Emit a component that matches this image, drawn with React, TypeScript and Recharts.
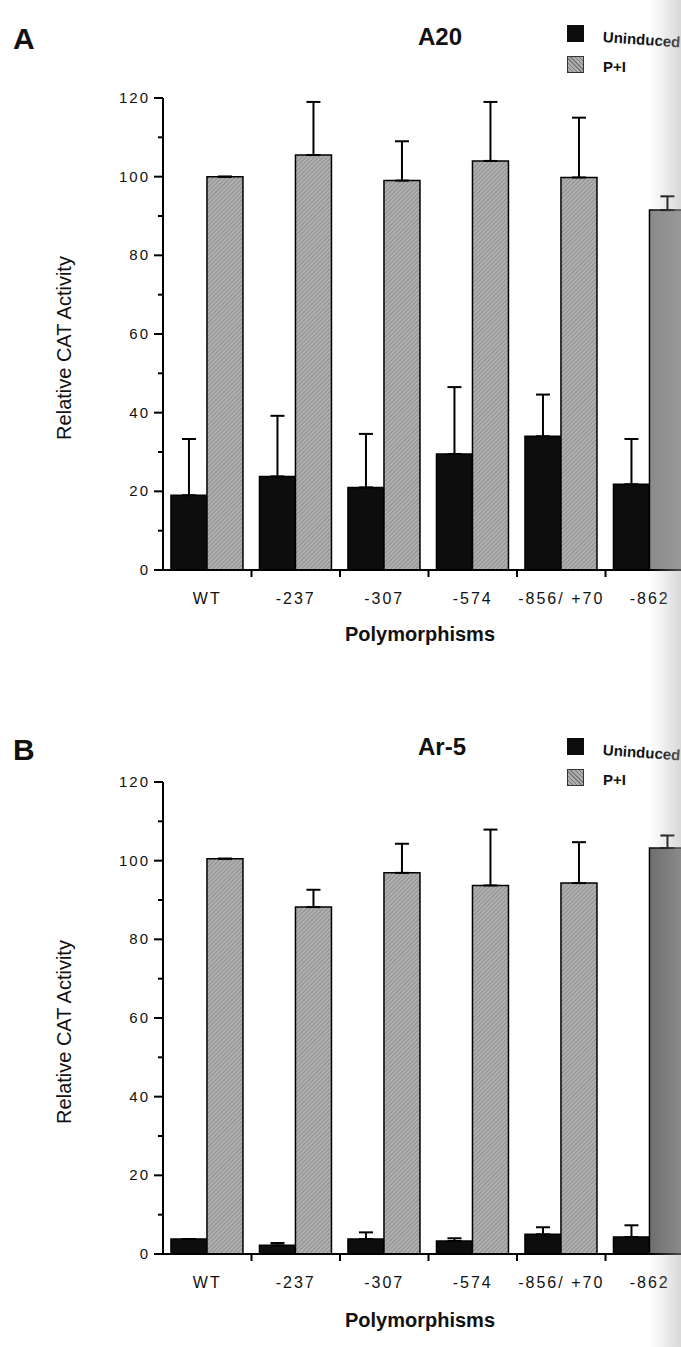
import React from 'react';
import { BarChart, Bar, XAxis, YAxis, ErrorBar, Cell } from 'recharts';

const categories = ['WT', '-237', '-307', '-574', '-856/ +70', '-862'];
const yTicks = [0, 10, 20, 30, 40, 50, 60, 70, 80, 90, 100, 110, 120];

// Panel A: A20
const a20Uninduced = [19, 23.8, 21, 29.5, 34, 21.8];
const a20UninducedErr = [14.3, 15.4, 13.6, 17, 10.6, 11.5];
const a20PI = [100, 105.5, 99, 104, 99.8, 91.5];
const a20PIErr = [0, 13.5, 10, 15, 15.2, 3.5];

// Panel B: Ar-5
const ar5Uninduced = [3.8, 2.2, 3.8, 3.3, 5, 4.3];
const ar5UninducedErr = [0, 0.6, 1.7, 0.7, 1.8, 3];
const ar5PI = [100.5, 88.2, 96.9, 93.7, 94.3, 103.2];
const ar5PIErr = [0, 4.4, 7.4, 14.2, 10.4, 3.2];

const FONT = '"Liberation Sans", Arial, Helvetica, sans-serif';

function buildRows(u: number[], ue: number[], p: number[], pe: number[]) {
  return categories.map((c, i) => ({
    cat: c,
    u: u[i],
    uErr: [0, ue[i]],
    p: p[i],
    pErr: [0, pe[i]],
  }));
}

const YTick = (props: any) => {
  const { x, y, payload } = props;
  const major = payload.value % 20 === 0;
  const len = major ? 9 : 5;
  return (
    <g>
      <line x1={x - len} x2={x} y1={y} y2={y} stroke="#000" strokeWidth={2} />
      {major && (
        <text
          x={x - 13}
          y={y + 5}
          textAnchor="end"
          fontFamily={FONT}
          fontSize={15}
          letterSpacing={2}
          fill="#111"
        >
          {payload.value}
        </text>
      )}
    </g>
  );
};

const XTick = (props: any) => {
  const { x, y, payload } = props;
  const off = typeof payload.offset === 'number' ? payload.offset : 0;
  return (
    <g>
      <line x1={x + off} x2={x + off} y1={y} y2={y + 7} stroke="#000" strokeWidth={2} />
      <text
        x={x}
        y={y + 34}
        textAnchor="middle"
        fontFamily={FONT}
        fontSize={16}
        letterSpacing={2}
        fill="#111"
      >
        {payload.value}
      </text>
    </g>
  );
};

function Panel(props: {
  rows: any[];
  id: string;
  height: number;
  top: number;
  darkLast: string;
}) {
  const { rows, id, height, top, darkLast } = props;
  return (
    <div style={{ position: 'absolute', left: 0, top }}>
      <BarChart
        width={704}
        height={height}
        data={rows}
        margin={{ top: 98, right: 10, bottom: 0, left: 100 }}
        barCategoryGap="9%"
        barGap={0}
      >
        <defs>
          <pattern
            id={id}
            width="3"
            height="3"
            patternUnits="userSpaceOnUse"
            patternTransform="rotate(45)"
          >
            <rect width="3" height="3" fill="#b0b0b0" />
            <line x1="0" y1="0" x2="0" y2="3" stroke="#787878" strokeWidth="1.2" />
          </pattern>
        </defs>
        <XAxis
          dataKey="cat"
          height={height - 98 - 472}
          interval={0}
          tickSize={0}
          tickMargin={0}
          tickLine={false}
          axisLine={{ stroke: '#000', strokeWidth: 2 }}
          tick={<XTick />}
        />
        <YAxis
          width={63}
          domain={[0, 120]}
          ticks={yTicks}
          interval={0}
          tickSize={0}
          tickMargin={0}
          tickLine={false}
          axisLine={{ stroke: '#000', strokeWidth: 2 }}
          tick={<YTick />}
        />
        <Bar dataKey="u" fill="#0d0d0d" stroke="#000" strokeWidth={1.5} isAnimationActive={false}>
          <ErrorBar dataKey="uErr" direction="y" width={7} stroke="#000" strokeWidth={2} />
        </Bar>
        <Bar dataKey="p" fill={`url(#${id})`} stroke="#000" strokeWidth={1.5} isAnimationActive={false}>
          {rows.map((r, i) => (
            <Cell key={r.cat} fill={i === rows.length - 1 ? darkLast : `url(#${id})`} />
          ))}
          <ErrorBar dataKey="pErr" direction="y" width={7} stroke="#000" strokeWidth={2} />
        </Bar>
      </BarChart>
    </div>
  );
}

const abs = (s: React.CSSProperties): React.CSSProperties => ({
  position: 'absolute',
  fontFamily: FONT,
  lineHeight: 1,
  whiteSpace: 'nowrap',
  color: '#111',
  ...s,
});

const hatchCss = 'repeating-linear-gradient(45deg, #787878 0px, #787878 1px, #b0b0b0 1px, #b0b0b0 3px)';

function Legend(props: { top: number }) {
  const t = props.top;
  return (
    <>
      <div style={abs({ left: 567, top: t, width: 17, height: 17, background: '#0d0d0d' })} />
      <div style={abs({ left: 603, top: t + 4, fontSize: 15, fontWeight: 700, transform: 'rotate(4deg)', transformOrigin: 'left center' })}>Uninduced</div>
      <div
        style={abs({
          left: 567,
          top: t + 31,
          width: 15,
          height: 15,
          background: hatchCss,
          border: '1px solid #333',
        })}
      />
      <div style={abs({ left: 603, top: t + 34, fontSize: 15, fontWeight: 700 })}>P+I</div>
    </>
  );
}

function YLabel(props: { cy: number }) {
  return (
    <div
      style={abs({
        left: 64,
        top: props.cy,
        fontSize: 20,
        transform: 'translate(-50%, -50%) rotate(-90deg)',
      })}
    >
      Relative CAT Activity
    </div>
  );
}

export default function App() {
  const rowsA = buildRows(a20Uninduced, a20UninducedErr, a20PI, a20PIErr);
  const rowsB = buildRows(ar5Uninduced, ar5UninducedErr, ar5PI, ar5PIErr);
  return (
    <div
      style={{
        position: 'absolute',
        left: 0,
        top: 0,
        width: 681,
        height: 1347,
        overflow: 'hidden',
        background: '#fff',
        fontFamily: FONT,
      }}
    >
      <Panel rows={rowsA} id="hatchA" height={684} top={0} darkLast="#8a8a8a" />
      <Panel rows={rowsB} id="hatchB" height={663} top={684} darkLast="#6f6f6f" />

      {/* Panel A texts */}
      <div style={abs({ left: 13, top: 24, fontSize: 30, fontWeight: 700 })}>A</div>
      <div style={abs({ left: 418, top: 25, fontSize: 24, fontWeight: 700 })}>A20</div>
      <Legend top={25} />
      <YLabel cy={348} />
      <div style={abs({ left: 420, top: 624, fontSize: 20, fontWeight: 700, transform: 'translateX(-50%)' })}>
        Polymorphisms
      </div>

      {/* Panel B texts */}
      <div style={abs({ left: 13, top: 735, fontSize: 30, fontWeight: 700 })}>B</div>
      <div style={abs({ left: 418, top: 735, fontSize: 24, fontWeight: 700 })}>Ar-5</div>
      <Legend top={738} />
      <YLabel cy={1032} />
      <div style={abs({ left: 420, top: 1310, fontSize: 20, fontWeight: 700, transform: 'translateX(-50%)' })}>
        Polymorphisms
      </div>

      {/* scan shading at right edge */}
      <div
        style={{
          position: 'absolute',
          left: 650,
          top: 0,
          width: 31,
          height: 1347,
          pointerEvents: 'none',
          background: 'linear-gradient(to right, rgba(180,180,180,0), rgba(170,170,170,0.45))',
        }}
      />
    </div>
  );
}
